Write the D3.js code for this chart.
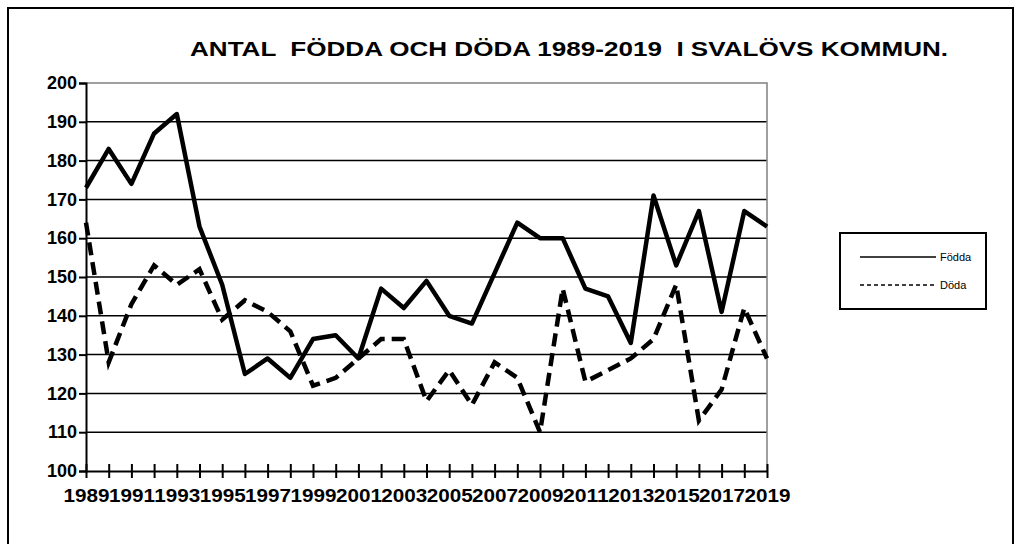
<!DOCTYPE html>
<html>
<head>
<meta charset="utf-8">
<script src="https://cdn.jsdelivr.net/npm/d3@7"></script>
<style>
  body { margin: 0; background: #fff; }
  svg { display: block; font-family: Arial, "Liberation Sans", sans-serif; }
</style>
</head>
<body>
<svg id="chart" width="1015" height="544"></svg>
<script>
const years = d3.range(1989, 2020);
const fodda = [173, 183, 174, 187, 192, 163, 148, 125, 129, 124, 134, 135, 129, 147, 142, 149,
  140, 138, 151, 164, 160, 160, 147, 145, 133, 171, 153, 167, 141, 167, 163];
const doda = [164, 128, 143, 153, 148, 152, 139, 144, 141, 136, 122, 124, 129, 134, 134, 118,
  126, 117, 128, 124, 110, 147, 123, 126, 129, 134, 148, 113, 121, 142, 129];
const yTicks = [100, 110, 120, 130, 140, 150, 160, 170, 180, 190, 200];
const xLabels = years.filter((y) => (y - 1989) % 2 === 0);
const title = 'ANTAL  FÖDDA OCH DÖDA 1989-2019  I SVALÖVS KOMMUN.';
const seriesNames = ['Födda', 'Döda'];

const svg = d3.select('#chart');
const plotL = 86, plotR = 767, plotT = 83, plotB = 471;

const x = d3.scalePoint().domain(years).range([plotL, plotR]);
const y = d3.scaleLinear().domain([100, 200]).range([plotB, plotT]);

// outer frame
svg.append('path')
  .attr('d', `M8,544 V8 H1013 V544`)
  .attr('fill', 'none')
  .attr('stroke', '#000')
  .attr('stroke-width', 2);

svg.append('text')
  .attr('x', 190).attr('y', 56)
  .attr('textLength', 758).attr('lengthAdjust', 'spacingAndGlyphs')
  .style('white-space', 'pre')
  .attr('font-size', 21).attr('font-weight', 'bold')
  .text(title);

// gridlines
svg.append('g').selectAll('line')
  .data(yTicks.filter((d) => d > 100 && d < 200))
  .join('line')
  .attr('x1', plotL).attr('x2', plotR)
  .attr('y1', (d) => y(d)).attr('y2', (d) => y(d))
  .attr('stroke', '#000').attr('stroke-width', 1.5);

// plot border (top, right)
svg.append('path')
  .attr('d', `M${plotL},${plotT} H${plotR} V${plotB}`)
  .attr('fill', 'none').attr('stroke', '#808080').attr('stroke-width', 1.5);

// y axis
const yAxis = svg.append('g')
  .attr('transform', `translate(${plotL},0)`)
  .call(d3.axisLeft(y).tickValues(yTicks).tickSize(7).tickPadding(2));
yAxis.select('.domain').attr('stroke-width', 2);
yAxis.selectAll('.tick line').attr('stroke-width', 2);
yAxis.selectAll('.tick text')
  .attr('font-size', 18).attr('font-weight', 'bold').attr('font-family', 'Arial, "Liberation Sans", sans-serif');

// x axis
const xAxis = svg.append('g')
  .attr('transform', `translate(0,${plotB})`)
  .call(d3.axisBottom(x).tickSizeOuter(0).tickSizeInner(7).tickPadding(11)
    .tickFormat((d) => (xLabels.includes(d) ? d : '')));
xAxis.select('.domain').attr('stroke-width', 2);
xAxis.selectAll('.tick line').attr('y1', -7).attr('stroke-width', 2);
xAxis.selectAll('.tick text')
  .attr('font-size', 18).attr('font-weight', 'bold').attr('font-family', 'Arial, "Liberation Sans", sans-serif')
  .attr('textLength', (d) => (xLabels.includes(d) ? 46 : null))
  .attr('lengthAdjust', 'spacingAndGlyphs')
  .attr('x', (d) => (xLabels.includes(d) ? -23 : 0))
  .attr('text-anchor', 'start');

const line = d3.line().x((d, i) => x(years[i])).y((d) => y(d));

svg.append('path').datum(fodda)
  .attr('d', line).attr('fill', 'none')
  .attr('stroke', '#000').attr('stroke-width', 4.5).attr('stroke-linejoin', 'round');

svg.append('path').datum(doda)
  .attr('d', line).attr('fill', 'none')
  .attr('stroke', '#000').attr('stroke-width', 4.5)
  .attr('stroke-dasharray', '13,7');

// legend
const lg = svg.append('g').attr('transform', 'translate(840,233)');
lg.append('rect').attr('width', 146).attr('height', 76)
  .attr('fill', '#fff').attr('stroke', '#000').attr('stroke-width', 2);
seriesNames.forEach((name, i) => {
  const ly = 24 + i * 28;
  lg.append('line').attr('x1', 20).attr('x2', 96).attr('y1', ly).attr('y2', ly)
    .attr('stroke', '#000').attr('stroke-width', 1.5)
    .attr('stroke-dasharray', i === 1 ? '4,3' : null);
  lg.append('text').attr('x', 100).attr('y', ly + 4)
    .attr('font-size', 11).text(name);
});
</script>
</body>
</html>
